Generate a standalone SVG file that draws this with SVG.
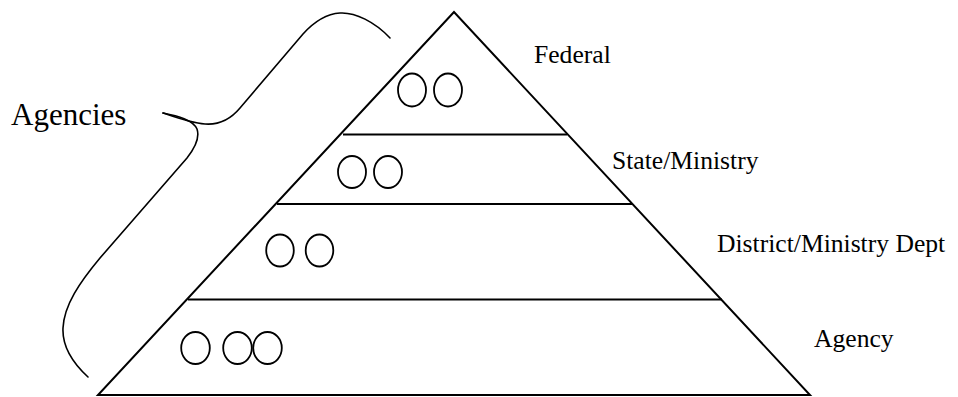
<svg xmlns="http://www.w3.org/2000/svg" width="958" height="397" viewBox="0 0 958 397">
  <style>
    .ln { fill: none; stroke: #000; stroke-width: 2; }
    .ag { fill: none; stroke: #000; stroke-width: 1.8; }
    .br { fill: none; stroke: #000; stroke-width: 1.6; stroke-linecap: round; }
    .lbl { font-family: "Liberation Serif", "Times New Roman", serif; font-size: 25.6px; fill: #000; }
    .big { font-size: 31px; }
  </style>
  <rect width="958" height="397" fill="#fff"/>
  <g id="pyramid">
    <polygon class="ln" points="454,12 98,395 810,395"/>
    <line class="ln" x1="343" y1="134.5" x2="567" y2="134.5"/>
    <line class="ln" x1="277" y1="204" x2="632" y2="204"/>
    <line class="ln" x1="188" y1="299.5" x2="722" y2="299.5"/>
  </g>
  <g id="federal">
    <ellipse class="ag" cx="412" cy="90" rx="14" ry="16.5"/>
    <ellipse class="ag" cx="448" cy="90" rx="14" ry="16.5"/>
    <text class="lbl" x="534" y="63">Federal</text>
  </g>
  <g id="state">
    <ellipse class="ag" cx="352" cy="172" rx="14" ry="16"/>
    <ellipse class="ag" cx="388" cy="172" rx="14" ry="16"/>
    <text class="lbl" x="612" y="169">State/Ministry</text>
  </g>
  <g id="district">
    <ellipse class="ag" cx="280" cy="250.5" rx="13.8" ry="16"/>
    <ellipse class="ag" cx="319.5" cy="250.5" rx="13.8" ry="16"/>
    <text class="lbl" x="717" y="252">District/Ministry Dept</text>
  </g>
  <g id="agency">
    <ellipse class="ag" cx="195.5" cy="348" rx="14.3" ry="16"/>
    <ellipse class="ag" cx="237.5" cy="348" rx="14.3" ry="16"/>
    <ellipse class="ag" cx="267.5" cy="348" rx="14.3" ry="16"/>
    <text class="lbl" x="814" y="347">Agency</text>
  </g>
  <g id="agencies">
    <text class="lbl big" x="11" y="125">Agencies</text>
    <path class="br" d="M 390 38 C 375 22, 355 12, 340 13 C 325 14, 312 24, 303 34 L 240 108 C 230 120, 218 125, 205 124 C 190 123, 172 116, 163 113"/>
    <path class="br" d="M 163 113 C 178 116, 193 120, 197 129 C 200 138, 195 148, 187 158 L 100 258 C 80 282, 64 305, 63 328 C 62 348, 75 365, 88 377"/>
  </g>
</svg>
